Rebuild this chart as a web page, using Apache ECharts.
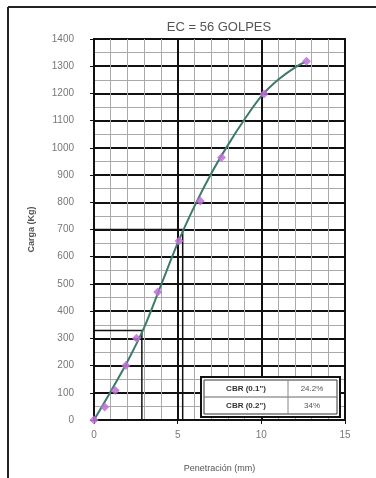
<!DOCTYPE html>
<html><head><meta charset="utf-8">
<script src="https://cdn.jsdelivr.net/npm/echarts@6/dist/echarts.min.js"></script>
<style>html,body{margin:0;padding:0;background:#fff}#c{width:376px;height:478px}</style>
</head><body><div id="c"></div>
<script>
// Measured points (penetration mm, load kg)
const penetration = [0, 0.64, 1.27, 1.91, 2.54, 3.81, 5.08, 6.35, 7.62, 10.16, 12.7];
const load = [0, 48, 108, 200, 300, 470, 658, 805, 965, 1198, 1318];
// Fitted curve
const curveX = [0, 1, 2, 3, 4, 5, 6, 7, 8, 9, 10, 11, 12, 12.6];
const curveY = [0, 105, 215, 340, 495, 650, 785, 905, 1010, 1105, 1190, 1250, 1295, 1315];
// Guide lines for CBR at 0.1" and 0.2"
const guide1 = [[0, 329], [2.86, 329], [2.86, 0]];
const guide2 = [[0, 700], [5.3, 700], [5.3, 0]];
const tableRows = [["CBR (0.1\")", "24.2%"], ["CBR (0.2\")", "34%"]];
const titleText = "EC = 56 GOLPES";

const chart = echarts.init(document.getElementById('c'));
const font = 'Liberation Sans, Arial, sans-serif';
const pts = penetration.map((x, i) => [x, load[i]]);
const curve = curveX.map((x, i) => [x, curveY[i]]);

chart.setOption({
  animation: false,
  backgroundColor: '#fff',
  title: {text: titleText, left: 214, top: 16, textAlign: 'center',
    textStyle: {fontFamily: font, fontSize: 13, fontWeight: 'normal', color: '#555'}},
  grid: {left: 94, right: 31, top: 39, bottom: 57, show: true, borderColor: '#111', borderWidth: 2},
  xAxis: {type: 'value', min: 0, max: 15, interval: 5,
    name: 'Penetración (mm)', nameLocation: 'middle', nameGap: 44,
    nameTextStyle: {fontFamily: font, fontSize: 9, color: '#555'},
    axisLine: {lineStyle: {color: '#111', width: 2}},
    axisTick: {show: true, length: 4, lineStyle: {color: '#111'}},
    minorTick: {show: true, splitNumber: 5, length: 0},
    axisLabel: {fontFamily: font, fontSize: 10, color: '#777', margin: 10},
    splitLine: {lineStyle: {color: '#111', width: 2}},
    minorSplitLine: {show: true, lineStyle: {color: '#aaa', width: 1}}},
  yAxis: {type: 'value', min: 0, max: 1400, interval: 100,
    name: 'Carga (Kg)', nameLocation: 'middle', nameGap: 58, nameRotate: 90,
    nameTextStyle: {fontFamily: font, fontSize: 9, color: '#555', fontWeight: 'bold'},
    axisLine: {lineStyle: {color: '#111', width: 2}},
    axisTick: {show: true, length: 4, lineStyle: {color: '#111'}},
    minorTick: {show: true, splitNumber: 2, length: 0},
    axisLabel: {fontFamily: font, fontSize: 10, color: '#777', margin: 20, formatter: v => String(v)},
    splitLine: {lineStyle: {color: '#111', width: 2}},
    minorSplitLine: {show: true, lineStyle: {color: '#aaa', width: 1}}},
  series: [
    {type: 'line', data: guide1, symbol: 'none', lineStyle: {color: '#111', width: 1.5}, z: 3},
    {type: 'line', data: guide2, symbol: 'none', lineStyle: {color: '#111', width: 1.5}, z: 3},
    {type: 'line', data: curve, smooth: 0.3, symbol: 'none', lineStyle: {color: '#3c7a6c', width: 2}, z: 4},
    {type: 'scatter', data: pts, symbol: 'diamond', symbolSize: 9,
      itemStyle: {color: '#c070d8', opacity: 0.85}, z: 5}
  ],
  graphic: [
    {type: 'line', shape: {x1: 8, y1: 7, x2: 8, y2: 478}, style: {stroke: '#222', lineWidth: 2}},
    {type: 'line', shape: {x1: 8, y1: 7, x2: 376, y2: 7}, style: {stroke: '#222', lineWidth: 2}},
    {type: 'rect', shape: {x: 201, y: 377, width: 139, height: 40}, style: {fill: '#fff', stroke: '#111', lineWidth: 2}, z: 10},
    {type: 'rect', shape: {x: 204, y: 380, width: 133, height: 34}, style: {fill: 'none', stroke: '#333', lineWidth: 1}, z: 10},
    {type: 'line', shape: {x1: 204, y1: 397, x2: 337, y2: 397}, style: {stroke: '#666', lineWidth: 1}, z: 10},
    {type: 'line', shape: {x1: 288, y1: 380, x2: 288, y2: 414}, style: {stroke: '#888', lineWidth: 1}, z: 10},
    {type: 'text', x: 246, y: 389, style: {text: tableRows[0][0], font: 'bold 8px ' + font, fill: '#333', textAlign: 'center', textVerticalAlign: 'middle'}, z: 11},
    {type: 'text', x: 312, y: 389, style: {text: tableRows[0][1], font: '8px ' + font, fill: '#555', textAlign: 'center', textVerticalAlign: 'middle'}, z: 11},
    {type: 'text', x: 246, y: 406, style: {text: tableRows[1][0], font: 'bold 8px ' + font, fill: '#333', textAlign: 'center', textVerticalAlign: 'middle'}, z: 11},
    {type: 'text', x: 312, y: 406, style: {text: tableRows[1][1], font: '8px ' + font, fill: '#555', textAlign: 'center', textVerticalAlign: 'middle'}, z: 11}
  ]
});
</script></body></html>
